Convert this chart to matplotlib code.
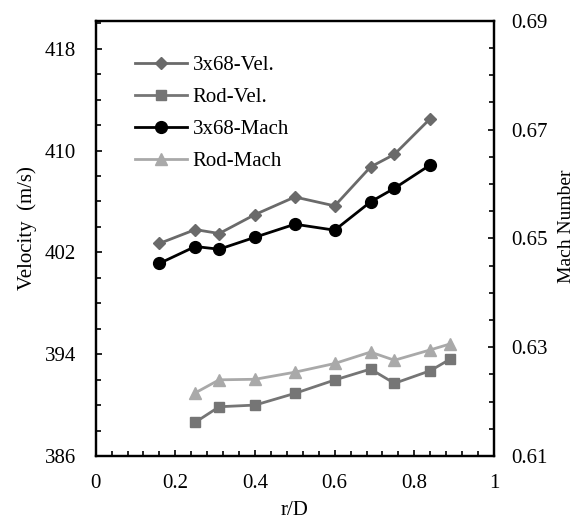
import matplotlib
matplotlib.use("Agg")
import matplotlib.pyplot as plt
from matplotlib.ticker import MultipleLocator, FormatStrFormatter

plt.rcParams['font.family'] = ['Liberation Serif', 'DejaVu Serif']

# Data
x_3x68 = [0.16, 0.25, 0.31, 0.40, 0.50, 0.60, 0.69, 0.75, 0.84]
vel_3x68 = [402.70, 403.79, 403.48, 404.97, 406.35, 405.65, 408.71, 409.70, 412.51]
mach_3x68 = [0.6454, 0.6485, 0.6480, 0.6502, 0.6526, 0.6515, 0.6567, 0.6592, 0.6635]

x_rod = [0.25, 0.31, 0.40, 0.50, 0.60, 0.69, 0.75, 0.84, 0.89]
vel_rod = [388.65, 389.87, 390.00, 390.92, 391.97, 392.83, 391.71, 392.70, 393.61]
mach_rod = [0.6216, 0.6240, 0.6241, 0.6254, 0.6270, 0.6291, 0.6276, 0.6295, 0.6306]

x_ticks = [0, 0.2, 0.4, 0.6, 0.8, 1]
x_ticklabels = ['0', '0.2', '0.4', '0.6', '0.8', '1']
vel_ticks = [386, 394, 402, 410, 418]
mach_ticks = [0.61, 0.63, 0.65, 0.67, 0.69]

fig = plt.figure(figsize=(5.75, 5.19), dpi=100)
ax = fig.add_axes([95.7/575, 63/519, 398.3/575, 435.3/519])
ax2 = ax.twinx()

c_v3 = '#6a6a6a'
c_vr = '#757575'
c_m3 = '#000000'
c_mr = '#a9a9a9'

l1, = ax.plot(x_3x68, vel_3x68, color=c_v3, lw=2, marker='D', ms=6, label='3x68-Vel.')
l2, = ax.plot(x_rod, vel_rod, color=c_vr, lw=2, marker='s', ms=6.5, label='Rod-Vel.')
l3, = ax2.plot(x_3x68, mach_3x68, color=c_m3, lw=2, marker='o', ms=8.5, label='3x68-Mach')
l4, = ax2.plot(x_rod, mach_rod, color=c_mr, lw=2, marker='^', ms=9, label='Rod-Mach')

ax.set_xlim(0, 1)
ax.set_ylim(386, 420.2)
ax2.set_ylim(0.61, 0.69)

ax.set_xticks(x_ticks)
ax.set_xticklabels(x_ticklabels)
ax.xaxis.set_minor_locator(MultipleLocator(0.04))
ax.set_yticks(vel_ticks)
ax.yaxis.set_minor_locator(MultipleLocator(2))
ax2.set_yticks(mach_ticks)
ax2.yaxis.set_minor_locator(MultipleLocator(0.005))
ax2.yaxis.set_major_formatter(FormatStrFormatter('%.2f'))

for a in (ax, ax2):
    a.tick_params(which='both', direction='in', labelsize=15, width=1.2)
    a.tick_params(which='major', length=4)
    a.tick_params(which='minor', length=3.5)
    for s in a.spines.values():
        s.set_linewidth(1.6)
ax.tick_params(axis='x', pad=13)
ax.tick_params(axis='y', pad=14)
ax2.tick_params(axis='y', pad=12.5)

ax.set_xlabel('r/D', fontsize=15, labelpad=6)
ax.set_ylabel('Velocity  (m/s)', fontsize=15, ha='center', va='center')
ax.yaxis.set_label_coords(-0.1725, 0.524)
ax2.set_ylabel('Mach Number', fontsize=14, ha='center', va='center')
ax2.yaxis.set_label_coords(1.181, 0.528)

leg = ax.legend(handles=[l1, l2, l3, l4], loc='upper left', bbox_to_anchor=(0.052, 0.963),
                frameon=False, fontsize=15, handlelength=2.5, handletextpad=0.25,
                labelspacing=0.6)

fig.savefig('out.png', dpi=100)
